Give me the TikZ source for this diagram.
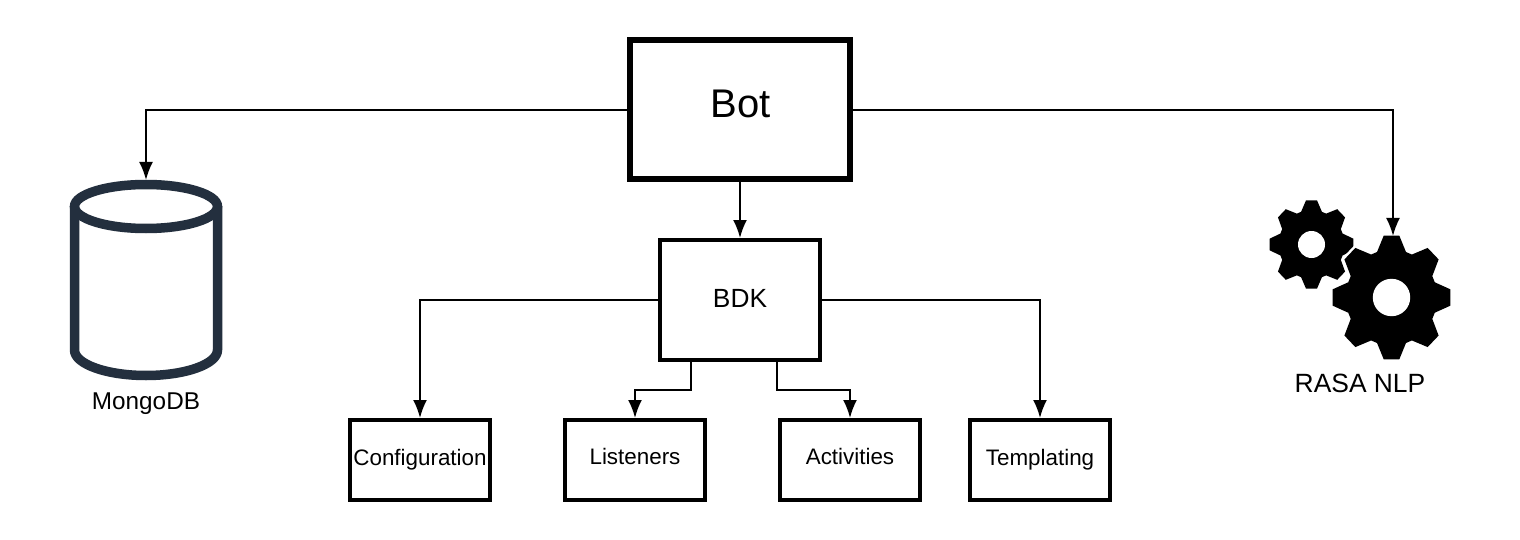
\documentclass[tikz,border=0pt]{standalone}
\usepackage{fontspec}
\setmainfont{Liberation Sans}
\usetikzlibrary{arrows.meta}
\definecolor{cyl}{HTML}{232F3E}
\newcommand{\gearshape}[5]{% centre x, y, outer R, root r, hole r
  \begin{scope}[shift={(#1,#2)}]
    \begin{scope}[xscale=.95]
      \def\gearoutline{(90+7.5:#3)
        \foreach \k in {0,...,7}{
          -- (90-45*\k-7.5:#3) -- (90-45*\k-18.5:#4) -- (90-45*\k-26.5:#4)
          -- (90-45*\k-37.5:#3)
        } -- cycle}
      \path[draw=white,line width=5pt,line join=round] \gearoutline;
      \path[fill=black] \gearoutline;
    \end{scope}
    \fill[white] (0,0) circle[radius=#5];
  \end{scope}}
\tikzset{
  x=1pt,y=-1pt,
  boxbase/.style={draw=black,fill=white,rectangle,inner sep=0pt,align=center,text=black},
  thickbox/.style={boxbase,line width=6pt,minimum width=220pt,minimum height=139pt,font=\fontsize{40}{44}\selectfont},
  midbox/.style={boxbase,line width=4pt,minimum width=160pt,minimum height=120pt,font=\fontsize{26.3}{30}\selectfont},
  leafbox/.style={boxbase,line width=4pt,minimum width=140pt,minimum height=80pt,font=\fontsize{22.4}{26}\selectfont},
  conn/.style={draw=black,line width=2pt,-{Latex[length=18pt,width=14pt]}},
  caption/.style={inner sep=0pt,text=black},
}
\begin{document}
\begin{tikzpicture}
\useasboundingbox (0,0) rectangle (1520,540);
\fill[white] (0,0) rectangle (1520,540);

% cylinder
\draw[cyl,line width=9.5pt,line join=round]
  (74.5,206.5) -- (74.5,350) arc[x radius=71.5,y radius=25.5,start angle=180,end angle=0] -- (217.5,206.5);
\draw[cyl,line width=9.5pt] (146,206.5) ellipse[x radius=71.5,y radius=22];
\coordinate (cyltop) at (146,180);
\node[caption,font=\fontsize{24.3}{28}\selectfont] (mongo) at (146,404) {MongoDB};

% gears
\gearshape{1311.5}{244.5}{44.5}{34.5}{13.5}
\gearshape{1391.5}{297.5}{62.5}{48}{18.7}
\coordinate (geartop) at (1393,236);
\node[caption,font=\fontsize{26.4}{30}\selectfont] (rasa) at (1360,383) {RASA NLP};

% boxes
\node[thickbox] (bot) at (740,109.75) {\raisebox{12pt}{\hspace{2pt}Bot}};
\node[midbox] (bdk) at (740,300) {\raisebox{3pt}{BDK}};
\node[leafbox] (config) at (420,460) {\raisebox{3pt}{Configuration}};
\node[leafbox] (listen) at (635,460) {\raisebox{7pt}{Listeners}};
\node[leafbox] (activ) at (850,460) {\raisebox{7pt}{Activities}};
\node[leafbox] (templ) at (1040,460) {\raisebox{6pt}{Templating}};

% named points for the elbows that start off-centre on BDK's lower edge
\coordinate (bdkl) at (691,362);
\coordinate (bdkr) at (777,362);

% connectors
\draw[conn] (bot.west) -| (cyltop);
\draw[conn] (bot.east) -| (geartop);
\draw[conn] (bot.south) -- (bdk.north);
\draw[conn] (bdk.west) -| (config.north);
\draw[conn] (bdk.east) -| (templ.north);
\draw[conn] (bdkl) |- (663,390) -| (listen.north);
\draw[conn] (bdkr) |- (813,390) -| (activ.north);
\end{tikzpicture}
\end{document}
